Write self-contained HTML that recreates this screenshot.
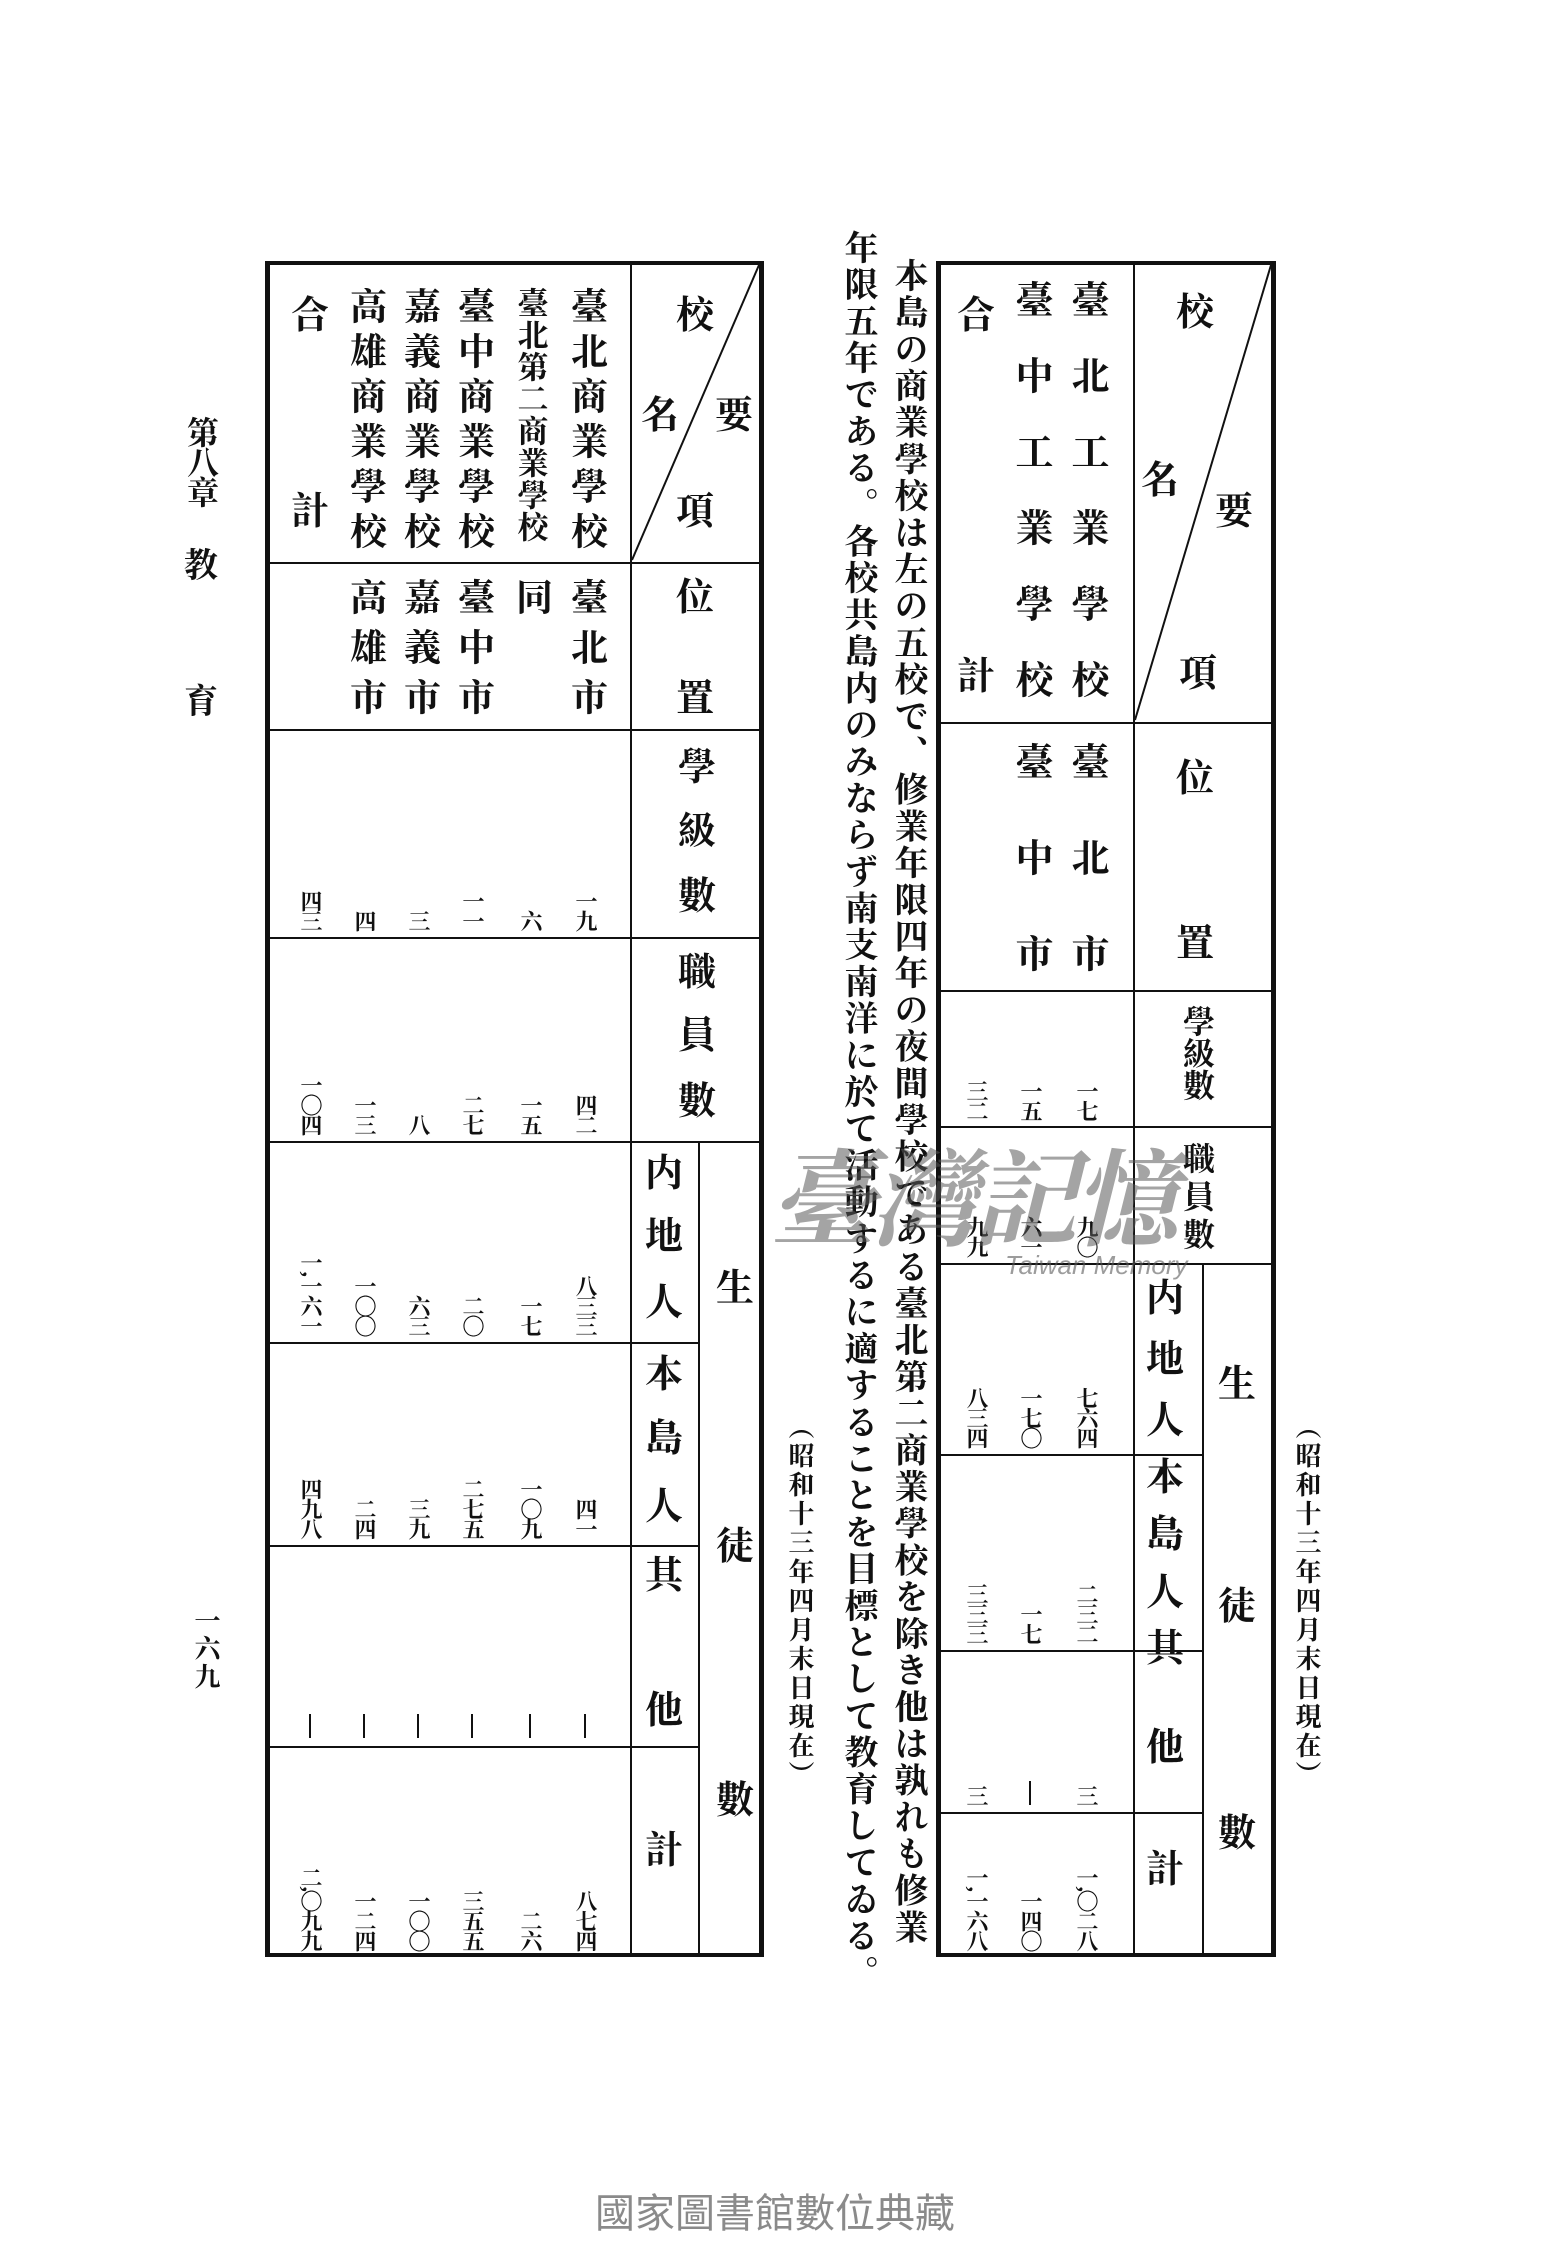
<!DOCTYPE html>
<html><head><meta charset="utf-8"><style>
html,body{margin:0;padding:0;background:#fff;}
body{width:1550px;height:2250px;position:relative;overflow:hidden;font-family:"Liberation Serif","Noto Serif CJK SC","Noto Sans CJK JP",serif;color:#111;}
.v{position:absolute;writing-mode:vertical-rl;transform:translateX(-50%);white-space:nowrap;font-weight:bold;line-height:1;}
.n{position:absolute;writing-mode:vertical-rl;transform:translate(-50%,-100%);white-space:nowrap;font-size:22px;font-weight:bold;line-height:1;letter-spacing:-2px;}
.d{position:absolute;width:2px;height:24px;background:#111;transform:translate(-50%,-100%);}
.c{position:absolute;transform:translate(-50%,-50%);font-weight:bold;font-size:38px;line-height:1;}
.h{position:absolute;background:#111;}
</style></head><body>

<div class="v" style="left:201px;top:416px;font-size:32px;letter-spacing:-2px;">第八章</div>
<div class="c" style="left:201px;top:567px;font-size:34px;">教</div>
<div class="c" style="left:201px;top:703px;font-size:34px;">育</div>
<div class="v" style="left:205px;top:1607px;font-size:26px;letter-spacing:2px;">一六九</div>

<!-- LEFT TABLE -->
<div class="h" style="left:265px;top:261px;width:499px;height:4px;"></div>
<div class="h" style="left:265px;top:1953px;width:499px;height:4px;"></div>
<div class="h" style="left:265px;top:261px;width:5px;height:1696px;"></div>
<div class="h" style="left:759px;top:261px;width:5px;height:1696px;"></div>
<div class="h" style="left:630px;top:263px;width:2px;height:1692px;"></div>
<div class="h" style="left:698px;top:1141px;width:2px;height:814px;"></div>
<div class="h" style="left:268px;top:562px;width:494px;height:2px;"></div>
<div class="h" style="left:268px;top:729px;width:494px;height:2px;"></div>
<div class="h" style="left:268px;top:937px;width:494px;height:2px;"></div>
<div class="h" style="left:268px;top:1141px;width:494px;height:2px;"></div>
<div class="h" style="left:268px;top:1342px;width:431px;height:2px;"></div>
<div class="h" style="left:268px;top:1545px;width:431px;height:2px;"></div>
<div class="h" style="left:268px;top:1746px;width:431px;height:2px;"></div>
<svg style="position:absolute;left:0;top:0" width="1550" height="2250"><line x1="759" y1="265" x2="632" y2="560" stroke="#111" stroke-width="2"/><line x1="1271" y1="265" x2="1135" y2="720" stroke="#111" stroke-width="2"/></svg>

<div class="c" style="left:695px;top:316px;">校</div>
<div class="c" style="left:660px;top:416px;">名</div>
<div class="c" style="left:734px;top:416px;">要</div>
<div class="c" style="left:695px;top:512px;">項</div>
<div class="c" style="left:695px;top:598px;">位</div>
<div class="c" style="left:695px;top:699px;">置</div>
<div class="c" style="left:697px;top:768px;">學</div>
<div class="c" style="left:697px;top:832px;">級</div>
<div class="c" style="left:697px;top:897px;">數</div>
<div class="c" style="left:697px;top:973px;">職</div>
<div class="c" style="left:697px;top:1036px;">員</div>
<div class="c" style="left:697px;top:1102px;">數</div>
<div class="c" style="left:664px;top:1174px;">内</div>
<div class="c" style="left:664px;top:1237px;">地</div>
<div class="c" style="left:664px;top:1303px;">人</div>
<div class="c" style="left:664px;top:1375px;">本</div>
<div class="c" style="left:664px;top:1439px;">島</div>
<div class="c" style="left:664px;top:1507px;">人</div>
<div class="c" style="left:664px;top:1576px;">其</div>
<div class="c" style="left:664px;top:1711px;">他</div>
<div class="c" style="left:664px;top:1851px;">計</div>
<div class="c" style="left:735px;top:1289px;">生</div>
<div class="c" style="left:735px;top:1547px;">徒</div>
<div class="c" style="left:735px;top:1801px;">數</div>

<div class="v" style="left:585px;top:287px;font-size:37px;letter-spacing:8px;">臺北商業學校</div>
<div class="v" style="left:530px;top:287px;font-size:31px;letter-spacing:1px;">臺北第二商業學校</div>
<div class="v" style="left:472px;top:287px;font-size:37px;letter-spacing:8px;">臺中商業學校</div>
<div class="v" style="left:418px;top:287px;font-size:37px;letter-spacing:8px;">嘉義商業學校</div>
<div class="v" style="left:364px;top:287px;font-size:37px;letter-spacing:8px;">高雄商業學校</div>
<div class="c" style="left:310px;top:316px;">合</div>
<div class="c" style="left:310px;top:512px;">計</div>

<div class="v" style="left:585px;top:578px;font-size:37px;letter-spacing:13px;">臺北市</div>
<div class="v" style="left:530px;top:578px;font-size:37px;">同</div>
<div class="v" style="left:472px;top:578px;font-size:37px;letter-spacing:13px;">臺中市</div>
<div class="v" style="left:418px;top:578px;font-size:37px;letter-spacing:13px;">嘉義市</div>
<div class="v" style="left:364px;top:578px;font-size:37px;letter-spacing:13px;">高雄市</div>

<div class="n" style="left:585px;top:930px;">一九</div><div class="n" style="left:530px;top:930px;">六</div><div class="n" style="left:472px;top:930px;">一一</div><div class="n" style="left:418px;top:930px;">三</div><div class="n" style="left:364px;top:930px;">四</div><div class="n" style="left:310px;top:930px;">四三</div>
<div class="n" style="left:585px;top:1134px;">四二</div><div class="n" style="left:530px;top:1134px;">一五</div><div class="n" style="left:472px;top:1134px;">二七</div><div class="n" style="left:418px;top:1134px;">八</div><div class="n" style="left:364px;top:1134px;">一三</div><div class="n" style="left:310px;top:1134px;">一〇四</div>
<div class="n" style="left:585px;top:1335px;">八三三</div><div class="n" style="left:530px;top:1335px;">一七</div><div class="n" style="left:472px;top:1335px;">二〇</div><div class="n" style="left:418px;top:1335px;">六三</div><div class="n" style="left:364px;top:1335px;">一〇〇</div><div class="n" style="left:310px;top:1335px;">一,一六一</div>
<div class="n" style="left:585px;top:1538px;">四一</div><div class="n" style="left:530px;top:1538px;">一〇九</div><div class="n" style="left:472px;top:1538px;">二七五</div><div class="n" style="left:418px;top:1538px;">三九</div><div class="n" style="left:364px;top:1538px;">二四</div><div class="n" style="left:310px;top:1538px;">四九八</div>
<div class="d" style="left:585px;top:1738px;"></div><div class="d" style="left:530px;top:1738px;"></div><div class="d" style="left:472px;top:1738px;"></div><div class="d" style="left:418px;top:1738px;"></div><div class="d" style="left:364px;top:1738px;"></div><div class="d" style="left:310px;top:1738px;"></div>
<div class="n" style="left:585px;top:1950px;">八七四</div><div class="n" style="left:530px;top:1950px;">二六</div><div class="n" style="left:472px;top:1950px;">三五五</div><div class="n" style="left:418px;top:1950px;">一〇〇</div><div class="n" style="left:364px;top:1950px;">一二四</div><div class="n" style="left:310px;top:1950px;">二,〇九九</div>

<!-- MIDDLE TEXT -->
<div class="v" style="left:907px;top:258px;font-size:34px;letter-spacing:2.7px;font-weight:bold;">本島の商業學校は左の五校で、修業年限四年の夜間學校である臺北第二商業學校を除き他は孰れも修業</div>
<div class="v" style="left:857px;top:230px;font-size:34px;letter-spacing:2.7px;font-weight:bold;">年限五年である。各校共島内のみならず南支南洋に於て活動するに適することを目標として教育してゐる。</div>
<div class="v" style="left:799px;top:1413px;font-size:26px;letter-spacing:3px;">（昭和十三年四月末日現在）</div>
<div class="v" style="left:1306px;top:1413px;font-size:26px;letter-spacing:3px;">（昭和十三年四月末日現在）</div>

<!-- RIGHT TABLE -->
<div class="h" style="left:936px;top:261px;width:340px;height:4px;"></div>
<div class="h" style="left:936px;top:1953px;width:340px;height:4px;"></div>
<div class="h" style="left:936px;top:261px;width:5px;height:1696px;"></div>
<div class="h" style="left:1271px;top:261px;width:5px;height:1696px;"></div>
<div class="h" style="left:1133px;top:263px;width:2px;height:1692px;"></div>
<div class="h" style="left:1202px;top:1263px;width:2px;height:692px;"></div>
<div class="h" style="left:939px;top:722px;width:335px;height:2px;"></div>
<div class="h" style="left:939px;top:990px;width:335px;height:2px;"></div>
<div class="h" style="left:939px;top:1126px;width:335px;height:2px;"></div>
<div class="h" style="left:939px;top:1263px;width:335px;height:2px;"></div>
<div class="h" style="left:939px;top:1454px;width:264px;height:2px;"></div>
<div class="h" style="left:939px;top:1650px;width:264px;height:2px;"></div>
<div class="h" style="left:939px;top:1812px;width:264px;height:2px;"></div>

<div class="c" style="left:1195px;top:313px;">校</div>
<div class="c" style="left:1160px;top:481px;">名</div>
<div class="c" style="left:1234px;top:512px;">要</div>
<div class="c" style="left:1198px;top:674px;">項</div>
<div class="c" style="left:1195px;top:779px;">位</div>
<div class="c" style="left:1195px;top:944px;">置</div>
<div class="v" style="left:1197px;top:1005px;font-size:32px;letter-spacing:0px;">學級數</div>
<div class="v" style="left:1197px;top:1142px;font-size:32px;letter-spacing:6px;">職員數</div>
<div class="c" style="left:1165px;top:1299px;">内</div>
<div class="c" style="left:1165px;top:1360px;">地</div>
<div class="c" style="left:1165px;top:1421px;">人</div>
<div class="c" style="left:1165px;top:1478px;">本</div>
<div class="c" style="left:1165px;top:1535px;">島</div>
<div class="c" style="left:1165px;top:1593px;">人</div>
<div class="c" style="left:1165px;top:1649px;">其</div>
<div class="c" style="left:1165px;top:1748px;">他</div>
<div class="c" style="left:1165px;top:1870px;">計</div>
<div class="c" style="left:1237px;top:1385px;">生</div>
<div class="c" style="left:1237px;top:1607px;">徒</div>
<div class="c" style="left:1237px;top:1834px;">數</div>

<div class="v" style="left:1086px;top:280px;font-size:38px;letter-spacing:38px;">臺北工業學校</div>
<div class="v" style="left:1030px;top:280px;font-size:38px;letter-spacing:38px;">臺中工業學校</div>
<div class="c" style="left:976px;top:316px;">合</div>
<div class="c" style="left:976px;top:677px;">計</div>
<div class="v" style="left:1086px;top:742px;font-size:38px;letter-spacing:58px;">臺北市</div>
<div class="v" style="left:1030px;top:742px;font-size:38px;letter-spacing:58px;">臺中市</div>

<div class="n" style="left:1086px;top:1120px;">一七</div><div class="n" style="left:1030px;top:1120px;">一五</div><div class="n" style="left:976px;top:1120px;">三二</div>
<div class="n" style="left:1086px;top:1256px;">九〇</div><div class="n" style="left:1030px;top:1256px;">六一</div><div class="n" style="left:976px;top:1256px;">九九</div>
<div class="n" style="left:1086px;top:1447px;">七六四</div><div class="n" style="left:1030px;top:1447px;">一七〇</div><div class="n" style="left:976px;top:1447px;">八三四</div>
<div class="n" style="left:1086px;top:1643px;">二三二</div><div class="n" style="left:1030px;top:1643px;">一七</div><div class="n" style="left:976px;top:1643px;">三三三</div>
<div class="n" style="left:1086px;top:1805px;">三</div><div class="d" style="left:1030px;top:1805px;"></div><div class="n" style="left:976px;top:1805px;">三</div>
<div class="n" style="left:1086px;top:1950px;">一,〇二八</div><div class="n" style="left:1030px;top:1950px;">一四〇</div><div class="n" style="left:976px;top:1950px;">一,一六八</div>

<div style="position:absolute;left:770px;top:1140px;font-size:105px;font-weight:bold;font-style:italic;color:rgba(90,90,90,0.55);font-family:'Noto Serif CJK SC','Noto Sans CJK SC',serif;letter-spacing:-4px;line-height:1;">臺灣記憶</div>
<div style="position:absolute;left:1005px;top:1250px;font-size:26px;font-style:italic;color:rgba(90,90,90,0.6);font-family:'Liberation Sans',sans-serif;">Taiwan Memory</div>

<div style="position:absolute;left:775px;top:2210px;transform:translate(-50%,-50%);font-size:40px;color:#8a8a8a;font-family:'Liberation Sans','Noto Sans CJK TC',sans-serif;white-space:nowrap;">國家圖書館數位典藏</div>
</body></html>
